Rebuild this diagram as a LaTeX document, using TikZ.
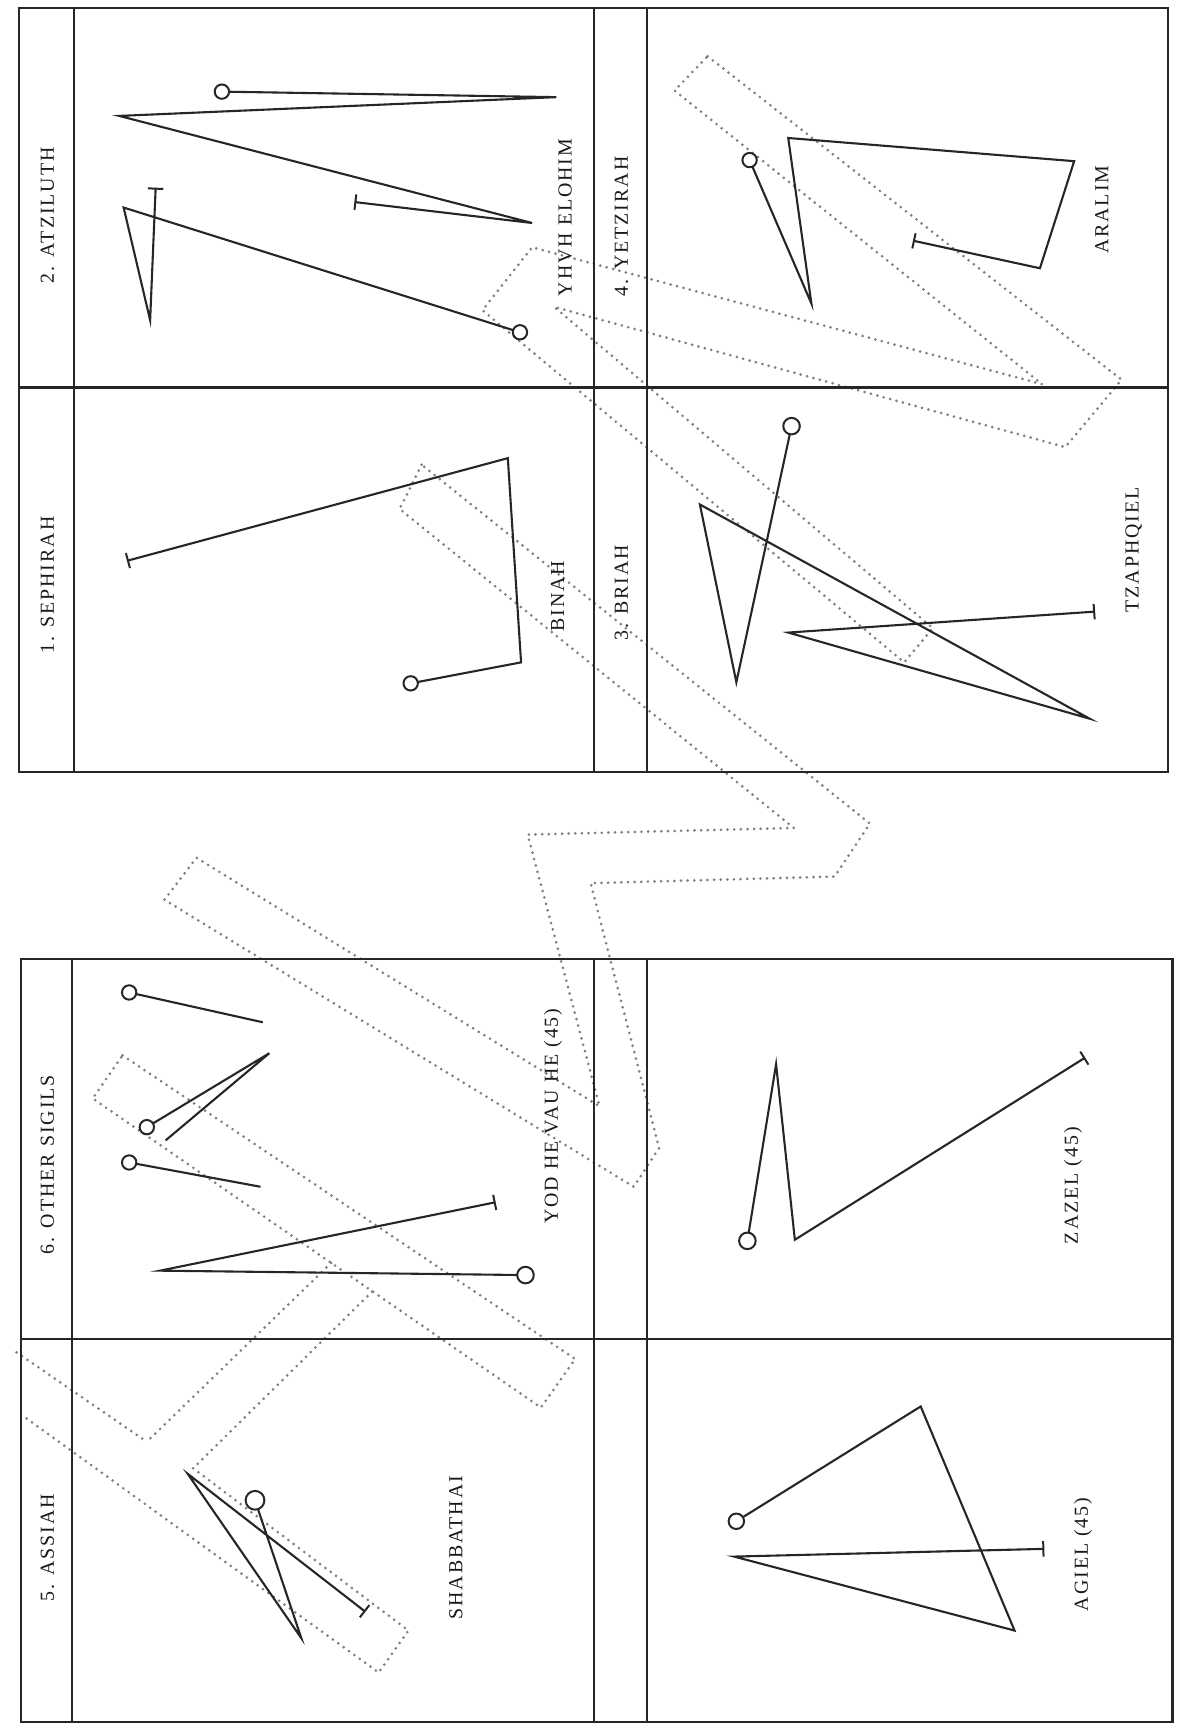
\documentclass[tikz,border=0pt]{standalone}
\usepackage{fontspec}
\setmainfont{Liberation Serif}[LetterSpace=10]
\usetikzlibrary{arrows.meta}
\begin{document}
\begin{tikzpicture}[x=1pt,y=-1pt,
  frame/.style={line width=2pt, draw=black!85},
  sig/.style={line width=1.9pt, draw=black!85, line join=miter},
  ring/.style={line width=1.8pt, draw=black!85},
  band/.style={line width=2.7pt, draw=black!50, dash pattern=on 0pt off 6pt, line cap=round},
  lab/.style={font=\fontsize{18}{20}\selectfont, rotate=90, inner sep=0pt, text=black!90},
  tend/.style={-{Bar[width=14pt,line width=1.8pt]}},
  tbeg/.style={{Bar[width=14pt,line width=1.8pt]}-},
]
\useasboundingbox (0,0) rectangle (1069,1568);
\fill[white] (0,0) rectangle (1069,1568);

% ---------- dotted bands ----------
\draw[band] (641,51) -- (1016,344) -- (965,405) -- (502,278) -- (845,569) -- (819,600)
  -- (437,281) -- (482,224) -- (944,348) -- (611,82) -- cycle;
\draw[band] (382,421) -- (362,461) -- (719,750) -- (478,756) -- (543,1002) -- (178,777)
  -- (149,815) -- (574,1075) -- (597,1040) -- (535,800) -- (756,794) -- (788,746) -- cycle;
\draw[band] (111,956) -- (521,1231) -- (490,1275) -- (84,995) -- cycle;
\draw[band] (300,1144) -- (133,1306);
\draw[band] (337,1170) -- (175,1330);
\draw[band] (15,1225) -- (133,1306);
\draw[band] (175,1330) -- (370,1477) -- (343,1515) -- (20,1282);

% ---------- frames ----------
\draw[frame] (17,7) rectangle (1058,699);
\draw[frame] (67,7) -- (67,699);
\draw[frame] (538,7) -- (538,699);
\draw[frame] (586,7) -- (586,699);
\draw[frame] (17,351) -- (1058,351);

\draw[frame] (19,869) rectangle (1062,1560);
\draw[frame] (65,869) -- (65,1560);
\draw[frame] (538,869) -- (538,1560);
\draw[frame] (586,869) -- (586,1560);
\draw[frame] (19,1213) -- (1062,1213);

% ---------- labels ----------
\node[lab] (l2) at (43,195) {2. ATZILUTH};
\node[lab] (l1) at (43,530) {1. SEPHIRAH};
\node[lab] (l4) at (563,205) {4. YETZIRAH};
\node[lab] (l3) at (563,537) {3. BRIAH};
\node[lab] (yhvh) at (512,197) {YHVH ELOHIM};
\node[lab] (binah) at (505,540) {BINAH};
\node[lab] (aralim) at (998,190) {ARALIM};
\node[lab] (tzaph) at (1027,498) {TZAPHQIEL};
\node[lab] (l6) at (43,1055) {6. OTHER SIGILS};
\node[lab] (l5) at (43,1402) {5. ASSIAH};
\node[lab] (yod) at (501,1011) {YOD HE VAU HE (45)};
\node[lab] (shab) at (413,1402) {SHABBATHAI};
\node[lab] (zazel) at (972,1074) {ZAZEL (45)};
\node[lab] (agiel) at (981,1408) {AGIEL (45)};

% ---------- sigils ----------
% Atziluth
\draw[sig, tend, shorten <=6.5pt] (201,83) -- (504,88) -- (108,105) -- (482,202) -- (321,183);
\draw[ring] (201,83) circle[radius=6.5pt];
\draw[sig, tbeg, shorten >=6.5pt] (141,170) -- (136,290) -- (112,188) -- (471,301);
\draw[ring] (471,301) circle[radius=6.5pt];
% Sephirah
\draw[sig, tbeg, shorten >=6.5pt] (115,508) -- (460,415) -- (472,600) -- (372,619);
\draw[ring] (372,619) circle[radius=6.5pt];
% Yetzirah
\draw[sig, tend, shorten <=6.5pt] (679,145) -- (735,275) -- (714,125) -- (973,146) -- (942,243) -- (827,218);
\draw[ring] (679,145) circle[radius=6.5pt];
% Briah
\draw[sig, tend, shorten <=7.5pt] (717,386) -- (667,618) -- (634,457) -- (987,651) -- (714,573) -- (992,554);
\draw[ring] (717,386) circle[radius=7.5pt];
% Other sigils
\draw[sig, shorten <=6.5pt] (117,899) -- (238,926);
\draw[ring] (117,899) circle[radius=6.5pt];
\draw[sig, shorten <=6.5pt] (133,1021) -- (244,954) -- (150,1033);
\draw[ring] (133,1021) circle[radius=6.5pt];
\draw[sig, shorten <=6.5pt] (117,1053) -- (236,1075);
\draw[ring] (117,1053) circle[radius=6.5pt];
\draw[sig, tend, shorten <=7.5pt] (476,1155) -- (145,1151) -- (449,1089);
\draw[ring] (476,1155) circle[radius=7.5pt];
% Zazel
\draw[sig, tend, shorten <=7.5pt] (677,1124) -- (703,964) -- (720,1123) -- (983,958);
\draw[ring] (677,1124) circle[radius=7.5pt];
% Agiel
\draw[sig, tend, shorten <=7pt] (667,1378) -- (834,1274) -- (919,1477) -- (665,1410) -- (946,1403);
\draw[ring] (667,1378) circle[radius=7pt];
% Assiah
\draw[sig, tend, shorten <=8.5pt] (231,1359) -- (273,1484) -- (170,1335) -- (331,1460);
\draw[ring] (231,1359) circle[radius=8.5pt];
\end{tikzpicture}
\end{document}
